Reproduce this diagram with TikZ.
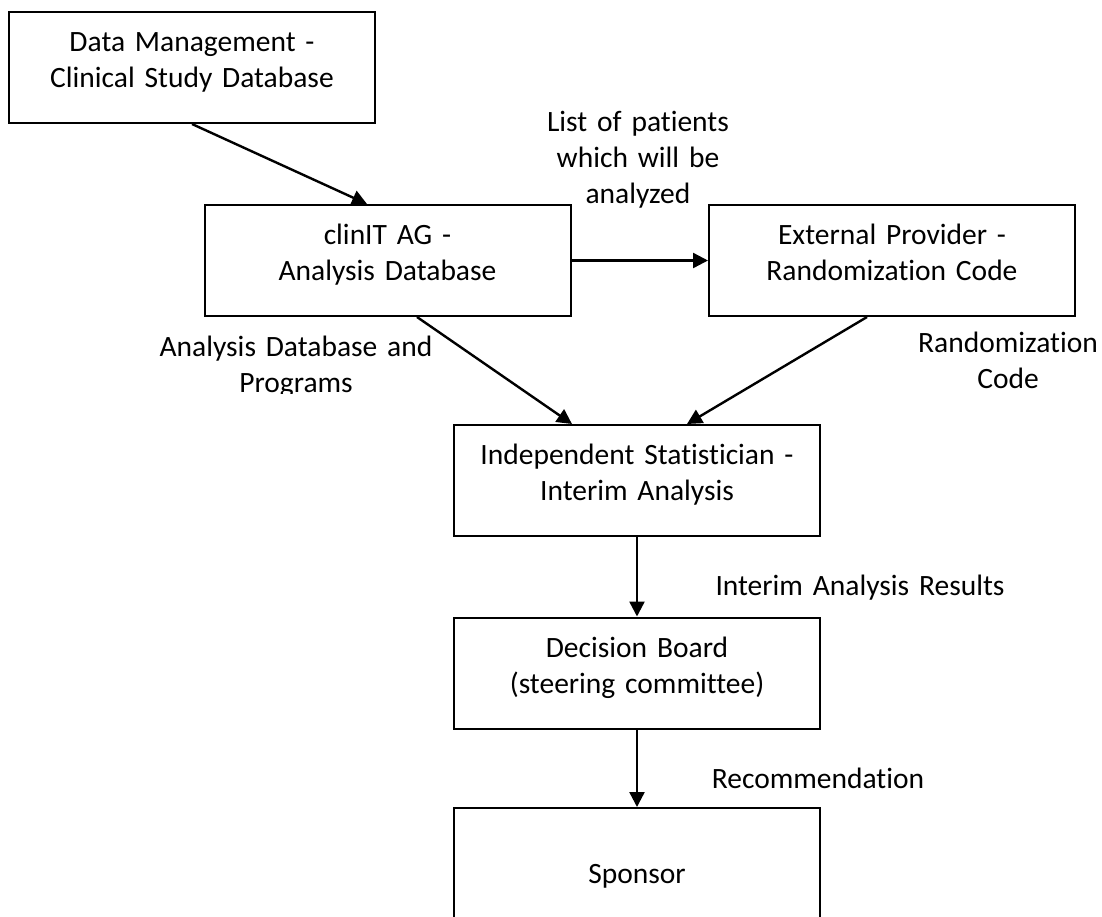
\documentclass[tikz,border=0pt]{standalone}
\usepackage{fontspec}
\setmainfont{Carlito}[Ligatures=NoCommon]
\usetikzlibrary{arrows.meta}
\usetikzlibrary{positioning}
\tikzset{
  stage/.style={draw, line width=1pt, inner xsep=0pt, inner ysep=0pt,
    text width=183pt, align=center, text height=19.75pt, text depth=35.75pt},
  flowtext/.style={inner sep=0pt, align=center}
}

\begin{document}
\begin{tikzpicture}[x=0.5pt, y=-0.5pt,
      >={Triangle[length=7.5pt,width=7.5pt]},
      line width=1.2pt,
      on grid,
      font=\fontsize{14.75pt}{18pt}\selectfont]

    \useasboundingbox (0,0) rectangle (1102,916);

    \node[stage]
      (DataMgmt) at (192,67.5) {Data Management -\\Clinical Study Database};
    \node[stage]
      (ClinIT) [below right=96.5pt and 97.75pt of DataMgmt] {clinIT AG -\\Analysis Database};
    \node[stage]
      (ExtProvider) [right=252.25pt of ClinIT] {External Provider -\\Randomization Code};
    \node[stage]
      (IndepStat) [below right=110pt and 124.75pt of ClinIT] {Independent Statistician -\\Interim Analysis};
    \node[stage]
      (DecisionBoard) [below=96.25pt of IndepStat] {Decision Board\\(steering committee)};
    \node[stage]
      (Sponsor) [below=95.25pt of DecisionBoard] {\mbox{}\\Sponsor};

    % edge labels
    \node[flowtext, text width=100pt]
      (PatientList) [above right=64.5pt and 125.25pt of ClinIT, anchor=base] {List of patients\\which will be\\analyzed};
    \begin{scope}
      \clip (0,0) rectangle (1102,393);
      \node[flowtext, text width=140pt]
        (DbPrograms) [below left=48pt and 45.75pt of ClinIT, anchor=base] {Analysis Database and\\Programs};
    \end{scope}
    \node[flowtext, text width=100pt]
      (RandCode) [below right=46pt and 58pt of ExtProvider, anchor=base] {Randomization\\Code};
    \node[flowtext, text width=150pt]
      (Results) [below right=57.5pt and 111.5pt of IndepStat, anchor=base] {Interim Analysis Results};
    \node[flowtext, text width=120pt]
      (Recommend) [below right=57.75pt and 90.5pt of DecisionBoard, anchor=base] {Recommendation};

    \path[->]
      (DataMgmt.south) edge ([xshift=-10.25pt]ClinIT.north)
      (ClinIT.east) edge (ExtProvider.west)
      ([xshift=14.75pt]ClinIT.south) edge ([xshift=-32.5pt]IndepStat.north)
      ([xshift=-12.5pt]ExtProvider.south) edge ([xshift=25pt]IndepStat.north)
      (IndepStat.south) edge (DecisionBoard.north)
      (DecisionBoard.south) edge (Sponsor.north);

  \end{tikzpicture}
\end{document}
